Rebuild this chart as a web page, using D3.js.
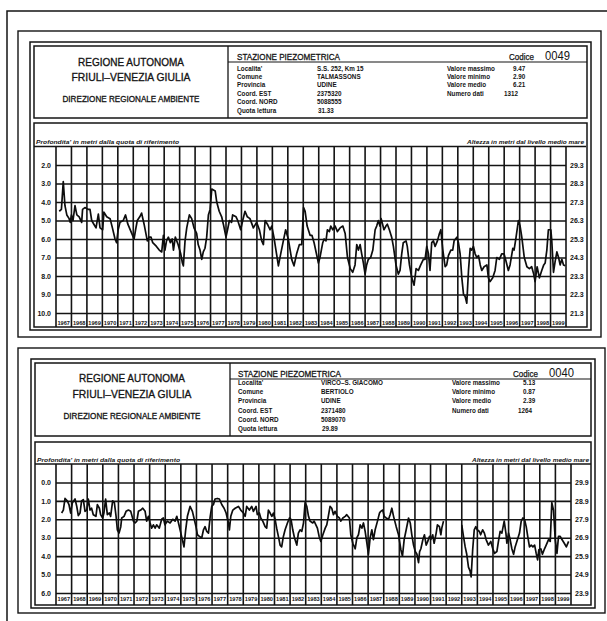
<!DOCTYPE html>
<html><head><meta charset="utf-8">
<script src="https://cdn.jsdelivr.net/npm/d3@7/dist/d3.min.js"></script>
<style>body{margin:0;background:#fff}svg{display:block}</style>
</head><body><svg id="c" width="607" height="621"></svg>
<script>
// ---------- DATA ----------
const yearLabels = ["1967","1968","1969","1970","1971","1972","1973","1974","1975","1976","1977","1978","1979","1980","1981","1982","1983","1984","1985","1986","1987","1988","1989","1990","1991","1992","1993","1994","1995","1996","1997","1998","1999"];
const fieldLabels = ["Localita'","Comune","Provincia","Coord. EST","Coord. NORD","Quota lettura"];
const statLabels = ["Valore massimo","Valore minimo","Valore medio","Numero dati"];
const titleLines = ["REGIONE AUTONOMA","FRIULI\u2013VENEZIA GIULIA","DIREZIONE REGIONALE AMBIENTE"];

const topFieldValues = ["S.S. 252, Km 15","TALMASSONS","UDINE","2375320","5088555","31.33"];
const topStats = ["9.47","2.90","6.21","1312"];
const topCode = "0049";
const topQuota = 31.33;
const topDepthTicks = [2,3,4,5,6,7,8,9,10];

const bottomFieldValues = ["VIRCO\u2013S. GIACOMO","BERTIOLO","UDINE","2371480","5089070","29.89"];
const bottomStats = ["5.13","0.87","2.39","1264"];
const bottomCode = "0040";
const bottomQuota = 29.89;
const bottomDepthTicks = [0,1,2,3,4,5,6];

const topYears = [1967.21,1967.35,1967.47,1967.58,1967.70,1967.85,1967.92,1968.00,1968.10,1968.23,1968.35,1968.50,1968.66,1968.72,1968.87,1969.09,1969.20,1969.31,1969.45,1969.59,1969.74,1969.85,1970.02,1970.10,1970.28,1970.50,1970.65,1970.82,1970.92,1971.02,1971.14,1971.35,1971.50,1971.65,1971.90,1972.05,1972.15,1972.26,1972.42,1972.54,1972.70,1972.91,1973.03,1973.15,1973.26,1973.50,1973.68,1973.84,1973.95,1974.05,1974.15,1974.27,1974.40,1974.52,1974.60,1974.72,1974.90,1975.07,1975.18,1975.24,1975.35,1975.46,1975.63,1975.78,1975.93,1976.10,1976.20,1976.32,1976.43,1976.53,1976.64,1976.75,1976.86,1976.97,1977.08,1977.30,1977.40,1977.56,1977.72,1977.83,1978.00,1978.10,1978.22,1978.36,1978.43,1978.65,1978.76,1978.95,1979.08,1979.23,1979.38,1979.55,1979.77,1979.98,1980.16,1980.31,1980.42,1980.53,1980.68,1980.85,1980.96,1981.10,1981.27,1981.39,1981.54,1981.71,1981.86,1982.03,1982.25,1982.40,1982.57,1982.75,1982.90,1983.02,1983.12,1983.25,1983.44,1983.56,1983.70,1983.98,1984.08,1984.26,1984.35,1984.47,1984.56,1984.69,1984.78,1984.91,1985.06,1985.21,1985.38,1985.56,1985.71,1985.86,1986.04,1986.20,1986.35,1986.46,1986.57,1986.68,1986.78,1986.89,1987.00,1987.10,1987.21,1987.36,1987.50,1987.65,1987.75,1987.86,1987.96,1988.04,1988.22,1988.35,1988.44,1988.57,1988.72,1988.83,1989.00,1989.15,1989.26,1989.37,1989.47,1989.65,1989.73,1989.87,1990.02,1990.17,1990.30,1990.45,1990.60,1990.77,1990.88,1990.99,1991.10,1991.20,1991.31,1991.42,1991.53,1991.68,1991.81,1991.90,1992.03,1992.18,1992.28,1992.39,1992.55,1992.67,1992.76,1992.94,1993.04,1993.15,1993.26,1993.37,1993.47,1993.58,1993.69,1993.80,1993.90,1994.01,1994.12,1994.23,1994.34,1994.45,1994.55,1994.70,1994.88,1994.98,1995.09,1995.26,1995.41,1995.52,1995.69,1995.84,1995.99,1996.12,1996.27,1996.38,1996.56,1996.64,1996.77,1996.92,1997.03,1997.14,1997.30,1997.47,1997.63,1997.78,1997.91,1998.00,1998.13,1998.28,1998.43,1998.56,1998.65,1998.76,1998.86,1999.02,1999.08,1999.19,1999.30,1999.41,1999.52,1999.62,1999.73,1999.84,1999.95];
const topDepths = [4.5,4.4,2.9,4.2,4.7,4.9,5.1,4.7,5.0,4.2,4.7,4.8,5.1,4.4,4.3,4.4,4.4,5.0,5.2,5.4,4.65,5.4,5.5,4.55,4.8,4.9,5.4,6.0,6.2,5.5,5.1,5.0,4.7,5.2,5.7,6.0,5.5,5.0,4.8,4.6,5.2,6.1,5.9,5.9,6.2,6.4,6.6,6.7,5.8,6.6,6.1,5.9,6.2,6.0,6.6,5.9,6.3,6.8,7.3,7.45,6.1,5.4,4.7,4.9,5.4,5.7,6.3,6.6,7.1,6.7,6.5,5.9,4.7,4.4,3.3,3.4,4.0,4.5,4.8,5.2,5.9,5.5,5.0,5.1,4.7,4.8,5.0,5.5,5.0,4.5,4.8,4.9,5.4,5.1,5.5,6.1,6.3,5.0,5.2,5.5,5.3,5.9,6.8,7.45,6.8,6.1,5.5,6.0,7.1,7.45,6.8,6.3,6.3,4.3,4.5,5.3,5.8,5.8,6.2,7.3,7.0,6.2,6.0,6.1,5.5,5.6,5.3,5.5,5.3,5.6,5.4,5.3,5.7,7.0,7.6,7.8,7.4,6.3,6.6,6.3,6.8,7.3,7.9,7.4,7.1,7.0,6.6,5.5,5.3,5.0,5.3,4.9,5.5,5.3,5.2,5.5,5.9,6.4,7.4,7.9,7.7,6.8,6.2,6.1,6.4,7.4,8.1,8.5,7.6,7.7,7.4,7.1,7.1,6.4,6.8,7.7,6.2,6.1,6.4,6.1,5.7,5.5,6.6,7.5,7.4,6.9,6.6,6.6,6.1,5.9,6.2,6.8,8.1,9.0,9.1,9.47,7.7,6.5,6.6,6.4,6.8,7.0,6.9,7.4,7.7,7.5,7.4,8.1,8.3,8.1,7.7,7.0,7.1,6.8,6.8,7.2,7.7,7.4,6.5,6.6,5.9,5.0,5.3,5.9,7.0,7.5,7.6,7.5,7.9,8.3,7.5,8.1,7.7,7.4,7.3,6.6,5.5,5.5,6.1,7.8,7.2,6.7,7.0,7.4,7.1,7.4,7.45];

const bottomYears = [1967.36,1967.47,1967.58,1967.72,1967.83,1967.94,1968.05,1968.22,1968.33,1968.43,1968.54,1968.64,1968.75,1968.86,1968.97,1969.07,1969.18,1969.28,1969.39,1969.56,1969.65,1969.78,1969.86,1969.99,1970.07,1970.18,1970.29,1970.42,1970.50,1970.63,1970.74,1970.85,1970.93,1971.04,1971.15,1971.21,1971.36,1971.49,1971.64,1971.79,1971.96,1972.07,1972.18,1972.28,1972.43,1972.56,1972.71,1972.81,1972.92,1973.03,1973.13,1973.24,1973.35,1973.45,1973.62,1973.77,1973.88,1973.98,1974.13,1974.31,1974.48,1974.63,1974.74,1974.85,1975.00,1975.12,1975.20,1975.31,1975.42,1975.59,1975.74,1975.84,1975.97,1976.06,1976.19,1976.34,1976.45,1976.55,1976.66,1976.77,1976.87,1976.98,1977.09,1977.19,1977.34,1977.47,1977.62,1977.77,1977.90,1978.05,1978.11,1978.20,1978.33,1978.48,1978.69,1978.84,1979.01,1979.12,1979.22,1979.39,1979.54,1979.65,1979.82,1979.90,1980.03,1980.12,1980.25,1980.40,1980.50,1980.61,1980.72,1980.83,1980.93,1981.04,1981.14,1981.25,1981.36,1981.46,1981.57,1981.68,1981.83,1981.96,1982.06,1982.17,1982.28,1982.43,1982.53,1982.64,1982.75,1982.86,1982.96,1983.07,1983.18,1983.28,1983.45,1983.54,1983.75,1983.86,1983.97,1984.10,1984.25,1984.35,1984.45,1984.56,1984.67,1984.78,1984.88,1985.03,1985.16,1985.25,1985.38,1985.53,1985.63,1985.80,1985.89,1986.02,1986.17,1986.28,1986.38,1986.49,1986.60,1986.70,1986.81,1986.92,1987.02,1987.13,1987.24,1987.34,1987.45,1987.60,1987.73,1987.81,1987.94,1988.03,1988.16,1988.31,1988.41,1988.52,1988.63,1988.80,1988.95,1989.10,1989.20,1989.31,1989.44,1989.59,1989.70,1989.80,1989.91,1990.02,1990.13,1990.23,1990.30,1990.38,1990.51,1990.61,1990.72,1990.82,1990.93,1991.02,1991.14,1991.23,1991.36,1991.44,1991.57,1991.66,1991.72,1991.83,1992.40,1993.00,1993.11,1993.22,1993.32,1993.43,1993.53,1993.60,1993.70,1993.80,1993.90,1993.99,1994.13,1994.21,1994.34,1994.45,1994.56,1994.71,1994.86,1994.99,1995.10,1995.25,1995.35,1995.46,1995.57,1995.72,1995.83,1995.89,1996.00,1996.10,1996.21,1996.32,1996.42,1996.57,1996.70,1996.81,1996.92,1997.02,1997.13,1997.24,1997.34,1997.45,1997.56,1997.67,1997.77,1997.86,1997.94,1998.07,1998.17,1998.28,1998.41,1998.56,1998.67,1998.77,1998.88,1998.99,1999.10,1999.20,1999.31,1999.42,1999.57,1999.70,1999.85];
const bottomDepths = [1.66,1.5,0.87,1.0,1.2,1.66,1.1,0.9,1.3,1.8,1.66,1.0,0.93,1.57,1.5,0.9,1.5,1.4,1.75,1.84,1.2,1.4,1.75,1.93,1.66,0.9,1.75,1.66,1.84,1.0,1.1,1.84,2.57,2.75,2.4,1.93,1.84,1.57,1.5,1.57,2.1,2.2,2.1,1.57,1.5,1.4,1.57,2.1,1.84,2.2,2.48,2.3,2.48,2.3,2.48,2.0,1.93,2.3,2.1,2.2,2.0,2.1,1.84,2.2,2.75,3.2,3.5,2.57,1.84,1.3,1.57,1.93,2.4,2.84,2.93,3.0,2.57,2.4,2.66,2.75,1.93,1.3,1.2,0.9,0.87,0.9,1.2,1.4,1.66,2.2,2.57,1.84,1.5,1.4,1.3,1.5,1.66,1.84,1.3,1.5,1.3,1.57,1.3,1.75,1.66,1.93,2.1,2.4,2.48,1.5,1.66,1.84,1.66,2.0,2.48,2.93,3.4,3.5,2.93,2.57,2.2,1.93,2.0,2.57,3.0,3.4,2.75,2.57,2.66,2.2,1.1,1.3,1.84,2.1,2.2,2.1,2.48,2.93,3.2,2.84,2.48,2.3,1.84,1.3,1.4,1.75,1.57,1.84,1.93,2.1,1.93,1.84,1.75,1.93,2.84,3.3,3.6,3.0,2.84,2.3,2.48,2.2,2.66,3.3,3.9,3.0,2.57,3.1,2.57,2.1,1.66,1.57,1.5,1.84,1.93,2.0,1.75,1.4,1.84,2.4,2.84,3.65,4.0,3.1,2.57,1.93,2.2,2.84,3.4,3.75,3.9,4.35,3.75,3.6,3.1,2.84,3.4,3.2,2.93,3.1,2.84,3.3,2.75,2.3,2.4,2.84,2.48,2.1,null,2.3,2.93,3.5,3.9,4.6,4.8,5.13,3.65,2.57,2.4,2.57,2.66,2.84,2.57,2.75,3.1,3.4,3.2,3.6,3.85,3.75,3.2,2.66,2.75,2.1,2.75,3.3,2.75,3.1,3.6,3.9,3.5,3.1,2.75,2.1,1.93,2.0,2.4,3.0,3.5,3.4,3.5,3.4,3.85,4.2,3.65,3.6,3.9,3.65,3.4,3.1,3.2,1.1,1.5,3.1,3.85,2.93,2.93,3.1,3.3,3.5,3.2];

// ---------- DRAW ----------
const svg = d3.select("#c");
const INK = "#141414";
const FONT = "'Liberation Sans', Arial, sans-serif";

svg.append("rect").attr("width",607).attr("height",621).attr("fill","#fff");
svg.append("path").attr("d","M7,621 V11 H607").attr("fill","none").attr("stroke",INK).attr("stroke-width",1.5);

function box(g, b, w) {
  g.append("rect").attr("x",b[0]).attr("y",b[1]).attr("width",b[2]-b[0]).attr("height",b[3]-b[1])
    .attr("fill","none").attr("stroke",INK).attr("stroke-width",w||1.3);
}
function txt(g, s, x, y, size, opts) {
  opts = opts || {};
  const t = g.append("text").attr("x",x).attr("y",y).text(s)
    .attr("font-family",opts.family||FONT).attr("font-size",size)
    .attr("font-weight",opts.weight||"normal").attr("fill",INK)
    .attr("text-anchor",opts.anchor||"start");
  if (opts.italic) t.attr("font-style","italic");
  if (opts.len) t.attr("textLength",opts.len).attr("lengthAdjust","spacingAndGlyphs");
  if (opts.heavy) t.attr("stroke",INK).attr("stroke-width",opts.heavy);
  return t;
}

function panel(o) {
  const g = svg.append("g");
  box(g, o.outer, 1.4);
  box(g, o.frame, 1.5);
  box(g, o.header, 1.5);
  box(g, o.chart, 1.5);
  g.append("line").attr("x1",o.divX).attr("x2",o.divX).attr("y1",o.header[1]).attr("y2",o.header[3]).attr("stroke",INK).attr("stroke-width",1.3);
  txt(g, titleLines[0], o.titleX, o.titleY[0], 11.5, {anchor:"middle", len:106, heavy:0.35});
  txt(g, titleLines[1], o.titleX, o.titleY[1], 11.5, {anchor:"middle", len:119, heavy:0.35});
  txt(g, titleLines[2], o.titleX, o.titleY[2], 8.3, {anchor:"middle", len:137, heavy:0.3});
  txt(g, "STAZIONE PIEZOMETRICA", o.labX, o.stazY, 9, {len:103, heavy:0.3});
  g.append("line").attr("x1",o.divX).attr("x2",o.header[2]).attr("y1",o.stazY+2).attr("y2",o.stazY+2).attr("stroke",INK).attr("stroke-width",1.2);
  txt(g, "Codice", o.codX, o.stazY, 9, {len:25, heavy:0.25});
  txt(g, o.code, o.codX+36, o.stazY, 12, {len:25});
  fieldLabels.forEach((s,i)=> txt(g, s, o.labX, o.rowY0 + i*o.rowStep, 6.3, {weight:"bold"}));
  o.fieldValues.forEach((s,i)=> txt(g, s, o.valX + (i===5?1:0), o.rowY0 + i*o.rowStep, 6.3, {weight:"bold"}));
  statLabels.forEach((s,i)=> txt(g, s, o.statX, o.rowY0 + i*o.rowStep, 6.3, {weight:"bold"}));
  o.stats.forEach((s,i)=> txt(g, s, o.statValX[i], o.rowY0 + i*o.rowStep, 6.3, {weight:"bold"}));

  const [px0, py0, px1, py1] = o.plot;
  const x = d3.scaleLinear().domain([1967, 2000]).range([px0, px1]);
  const y = d3.scaleLinear().domain(o.depthDomain).range([py0, py1]);

  txt(g, "Profondita' in metri dalla quota di riferimento", o.chart[0]+2, o.labelY, 6.2, {weight:"bold", italic:true, len:143});
  txt(g, "Altezza in metri dal livello medio mare", o.altX, o.labelY, 6.2, {weight:"bold", italic:true, anchor:"end", len:117});
  g.append("line").attr("x1",o.chart[0]).attr("x2",o.altX+2).attr("y1",py0).attr("y2",py0).attr("stroke",INK).attr("stroke-width",1.5);

  const la = g.append("g").attr("transform",`translate(${px0},0)`)
    .call(d3.axisLeft(y).tickValues(o.ticks).tickSize(-(px1-px0)).tickPadding(5).tickFormat(d3.format(".1f")));
  la.select(".domain").remove();
  la.selectAll("line").attr("stroke",INK).attr("stroke-width",1.6);
  la.selectAll("text").attr("font-family",FONT).attr("font-size",7).attr("font-weight","bold").attr("fill",INK);
  const ra = g.append("g").attr("transform",`translate(${px1},0)`)
    .call(d3.axisRight(y).tickValues(o.ticks).tickSize(0).tickPadding(4).tickFormat(d=> (o.quota - d).toFixed(1)));
  ra.select(".domain").remove();
  ra.selectAll("text").attr("font-family",FONT).attr("font-size",7).attr("font-weight","bold").attr("fill",INK);

  const edges = yearLabels.map(Number).concat([2000]);
  g.selectAll(null).data(edges).join("line")
    .attr("x1",d=>x(d)).attr("x2",d=>x(d)).attr("y1",py0).attr("y2",o.chart[3])
    .attr("stroke",INK).attr("stroke-width",1.6);
  g.selectAll(null).data(yearLabels).join("text")
    .attr("x",d=>x(+d+0.5)).attr("y",o.yearY).text(d=>d)
    .attr("text-anchor","middle").attr("font-family",FONT).attr("font-size",5.6).attr("font-weight","bold")
    .attr("fill",INK).attr("textLength",12.5).attr("lengthAdjust","spacingAndGlyphs");

  const pts = o.years.map((yr,i)=>[yr, o.depths[i]]);
  const line = d3.line().defined(d=>d[1]!==null).x(d=>x(d[0])).y(d=>y(d[1]));
  g.append("path").datum(pts).attr("d",line).attr("fill","none")
    .attr("stroke","#0d0d0d").attr("stroke-width",1.7).attr("stroke-linejoin","round");
}

panel({
  outer:[18,31,601,337], frame:[30,42,591,330], header:[34,46,587,118], chart:[34,123,587,327],
  divX:228, titleX:131, titleY:[66,81,102],
  labX:237, stazY:60, codX:509, code:topCode,
  rowY0:70.5, rowStep:8.4, valX:317, statX:447, statValX:[513,513,513,504],
  fieldValues:topFieldValues, stats:topStats,
  plot:[56,146.5,566,313], depthDomain:[1,10], ticks:topDepthTicks, quota:topQuota,
  labelY:143.5, altX:584, yearY:325,
  years:topYears, depths:topDepths
});

panel({
  outer:[18,348,605,613], frame:[31,359,595,608], header:[35,363,591,436], chart:[35,442,591,605],
  divX:230, titleX:132, titleY:[382,398,419],
  labX:238, stazY:377, codX:513, code:bottomCode,
  rowY0:385, rowStep:9.2, valX:321, statX:452, statValX:[523,523,523,518],
  fieldValues:bottomFieldValues, stats:bottomStats,
  plot:[56,464,571,593], depthDomain:[-1,6], ticks:bottomDepthTicks, quota:bottomQuota,
  labelY:461.5, altX:589, yearY:601,
  years:bottomYears, depths:bottomDepths
});
</script></body></html>
